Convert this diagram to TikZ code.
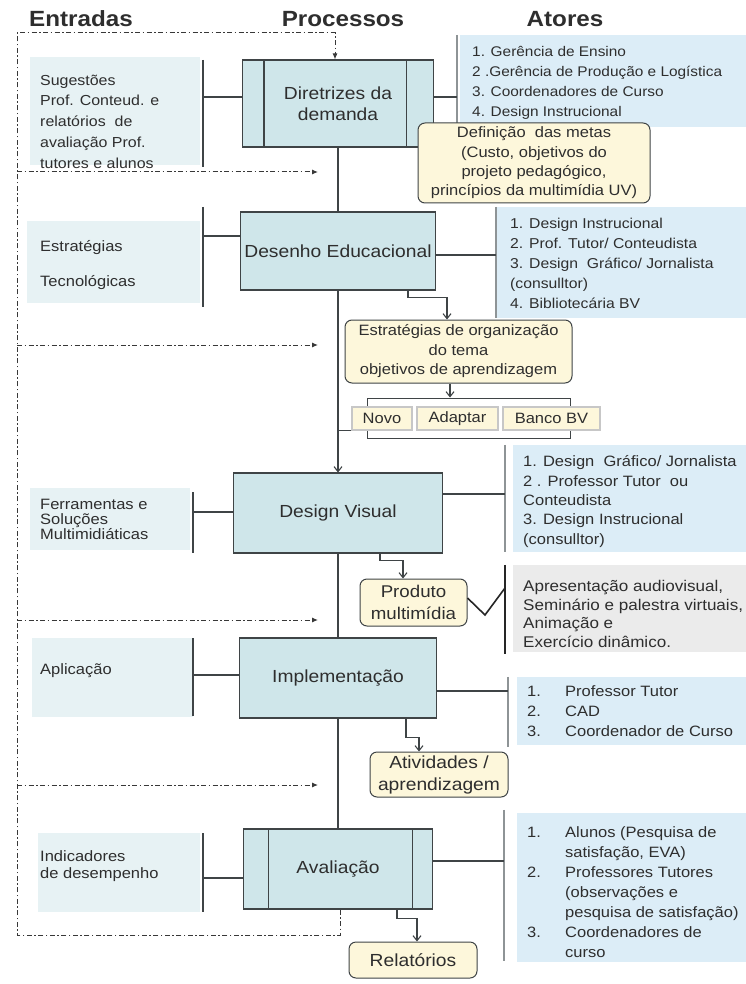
\documentclass[tikz,border=0pt]{standalone}
\usepackage{fontspec}
\setmainfont[FakeStretch=1.1]{Liberation Sans}
\usetikzlibrary{arrows.meta}

\definecolor{ink}{HTML}{2E2E2E}
\definecolor{linec}{HTML}{3F4446}
\definecolor{procfill}{HTML}{CFE6EA}
\definecolor{infill}{HTML}{E7F2F4}
\definecolor{actfill}{HTML}{DCEDF7}
\definecolor{notefill}{HTML}{FDF7DB}
\definecolor{greyfill}{HTML}{EBEBEB}
\definecolor{barc}{HTML}{8E9496}

\tikzset{
  head/.style={inner sep=0, text=ink, font=\fontsize{22}{26}\selectfont\bfseries},
  proc/.style={draw=linec, line width=1.1pt, fill=procfill, inner sep=0, align=center,
    text=ink, font=\fontsize{17.5}{21}\selectfont},
  note/.style={draw=linec, line width=1pt, fill=notefill, rounded corners=7pt, inner sep=0,
    align=center, text=ink},
  opt/.style={draw=black!22, line width=1.8pt, fill=notefill, inner sep=0, text=ink,
    font=\fontsize{15}{18}\selectfont},
  inpanel/.style={fill=infill, inner sep=0},
  actpanel/.style={fill=actfill, inner sep=0},
  txt/.style={inner sep=0, align=left, text=ink, anchor=west},
  link/.style={draw=linec, line width=1.1pt},
  flow/.style={link, -{Straight Barb[length=5pt,width=8pt]}},
  fb/.style={draw=black!78, line width=1pt, dash pattern=on 5pt off 2.5pt on 1.5pt off 2.5pt},
  fbtip/.style={-{Latex[length=6pt,width=5pt]}},
  inbar/.style={draw=linec, line width=1.6pt},
  actbar/.style={draw=barc, line width=1.4pt},
}

\begin{document}
\begin{tikzpicture}[x=1pt,y=-1pt]
\useasboundingbox[fill=white] (0,0) rectangle (746,984);

% column headings
\node[head] (hin) at (81,19) {Entradas};
\node[head] (hproc) at (343,19) {Processos};
\node[head] (hact) at (565,19) {Atores};

% ---------- input panels (left column)
\node[inpanel, minimum width=170, minimum height=108] (in1) at (115,111) {};
\node[inpanel, minimum width=173, minimum height=82] (in2) at (113.5,262) {};
\node[inpanel, minimum width=160, minimum height=62] (in3) at (110,519) {};
\node[inpanel, minimum width=161, minimum height=79] (in4) at (112.5,677.5) {};
\node[inpanel, minimum width=162, minimum height=79] (in5) at (119,872.5) {};

\node[txt, font=\fontsize{14.5}{20.7}\selectfont] (in1t) at (40,121.5)
  {Sugestões\\Prof. Conteud. e\\relatórios\ \ de\\avaliação Prof.\\tutores e alunos};
\node[txt, font=\fontsize{15}{35}\selectfont] (in2t) at (40,265.5) {Estratégias\\Tecnológicas};
\node[txt, font=\fontsize{15}{15}\selectfont] (in3t) at (40,519) {Ferramentas e\\Soluções\\Multimidiáticas};
\node[txt, font=\fontsize{15}{18}\selectfont] (in4t) at (40,671) {Aplicação};
\node[txt, font=\fontsize{15}{16.5}\selectfont] (in5t) at (40,866) {Indicadores\\de desempenho};

% separator bars of the input panels
\draw[inbar] (203,60) -- (203,167);
\draw[inbar] (203,207) -- (203,307);
\draw[inbar] (193,492) -- (193,553);
\draw[inbar] (193,638) -- (193,716);
\draw[inbar] (203,833) -- (203,912);

% ---------- actor panels (right column)
\node[actpanel, minimum width=286, minimum height=92] (act1) at (603,81) {};
\node[actpanel, minimum width=250, minimum height=111] (act2) at (621,262.5) {};
\node[actpanel, minimum width=233, minimum height=107] (act3) at (629.5,498.5) {};
\node[fill=greyfill, inner sep=0, minimum width=233, minimum height=87] (media) at (629.5,608.5) {};
\node[actpanel, minimum width=229, minimum height=68] (act4) at (631.5,711) {};
\node[actpanel, minimum width=229, minimum height=149] (act5) at (631.5,887.5) {};

\node[txt, font=\fontsize{14}{20}\selectfont] (act1t) at (472,83)
  {1. Gerência de Ensino\\2 .Gerência de Produção e Logística\\3. Coordenadores de Curso\\4. Design Instrucional};
\node[txt, font=\fontsize{14.3}{20}\selectfont] (act2t) at (510,263)
  {1. Design Instrucional\\2. Prof. Tutor/ Conteudista\\3. Design\ \ Gráfico/ Jornalista\\(consulltor)\\4. Bibliotecária BV};
\node[txt, font=\fontsize{15}{19.3}\selectfont] (act3t) at (523,501.5)
  {1. Design\ \ Gráfico/ Jornalista\\2 . Professor Tutor\ \ ou\\Conteudista\\3. Design Instrucional\\(consulltor)};
\node[txt, font=\fontsize{15.5}{18.8}\selectfont] (mediat) at (523,614)
  {Apresentação audiovisual,\\Seminário e palestra virtuais,\\Animação e\\Exercício dinâmico.};
\node[txt, font=\fontsize{15}{20}\selectfont] (act4t) at (527,711.5)
  {\makebox[38pt][l]{1.}Professor Tutor\\\makebox[38pt][l]{2.}CAD\\\makebox[38pt][l]{3.}Coordenador de Curso};
\node[txt, font=\fontsize{15}{20}\selectfont] (act5t) at (527,892)
  {\makebox[38pt][l]{1.}Alunos (Pesquisa de\\\hspace*{38pt}satisfação, EVA)\\
   \makebox[38pt][l]{2.}Professores Tutores\\\hspace*{38pt}(observações e\\
   \hspace*{38pt}pesquisa de satisfação)\\\makebox[38pt][l]{3.}Coordenadores de\\\hspace*{38pt}curso};

% separator bars of the actor panels
\draw[actbar] ([xshift=-3]act1.north west) -- ([xshift=-3]act1.south west);
\draw[actbar] (act2.north west) -- (act2.south west);
\draw[actbar] ([xshift=-8]act3.north west) -- ([xshift=-8]act3.south west);
\draw[draw=black!85, line width=2.2pt] ([xshift=-8]media.north west) -- ([xshift=-8,yshift=-2]media.south west);
\draw[actbar] ([xshift=-9]act4.north west) -- ([xshift=-9,yshift=-2]act4.south west);
\draw[actbar] ([xshift=-13,yshift=3]act5.north west) -- ([xshift=-13,yshift=1]act5.south west);

% ---------- process boxes
\node[proc, minimum width=191, minimum height=87] (dir) at (338,103.5) {Diretrizes da\\demanda};
\draw[link] ([xshift=22]dir.north west) -- ([xshift=22]dir.south west);
\draw[link] ([xshift=-28]dir.north east) -- ([xshift=-28]dir.south east);
\node[proc, minimum width=195, minimum height=78] (des) at (338,251) {Desenho Educacional};
\node[proc, minimum width=209, minimum height=80] (dv) at (338,513) {Design Visual};
\node[proc, minimum width=197, minimum height=80] (imp) at (338,678) {Implementação};
\node[proc, minimum width=189, minimum height=80] (ava) at (338,869) {Avaliação};
\draw[link] ([xshift=25.5]ava.north west) -- ([xshift=25.5]ava.south west);
\draw[link] ([xshift=-20.5]ava.north east) -- ([xshift=-20.5]ava.south east);

% inputs -> processes
\coordinate (i1) at (203,97);   \draw[link] (i1) -- (i1 -| dir.west);
\coordinate (i2) at (203,236);  \draw[link] (i2) -- (i2 -| des.west);
\coordinate (i3) at (193,512);  \draw[link] (i3) -- (i3 -| dv.west);
\coordinate (i4) at (193,675);  \draw[link] (i4) -- (i4 -| imp.west);
\coordinate (i5) at (203,878);  \draw[link] (i5) -- (i5 -| ava.west);

% processes -> actors
\coordinate (a1) at (457,97);   \draw[link] (a1 -| dir.east) -- (a1);
\coordinate (a2) at (496,255);  \draw[link] (a2 -| des.east) -- (a2);
\coordinate (a3) at (505,494);  \draw[link] (a3 -| dv.east) -- (a3);
\coordinate (a4) at (508,691);  \draw[link] (a4 -| imp.east) -- (a4);
\coordinate (a5) at (504,861);  \draw[link] (a5 -| ava.east) -- (a5);

% ---------- outputs of the processes
\node[note, minimum width=232, minimum height=80, font=\fontsize{15}{19.3}\selectfont] (meta) at (534,163)
  {Definição\ \ das metas\\(Custo, objetivos do\\projeto pedagógico,\\princípios da multimídia UV)};

\node[note, minimum width=227, minimum height=63, font=\fontsize{15}{19.5}\selectfont] (estr) at (458.5,351.5)
  {Estratégias de organização\\do tema\\objetivos de aprendizagem};

\node[draw=linec, line width=1pt, inner sep=0, minimum width=203, minimum height=40] (grp) at (468.5,418) {};
\node[opt, minimum width=60, minimum height=23] (novo) at (382,418.5) {Novo};
\node[opt, minimum width=81, minimum height=23] (adap) at (457.5,418.5) {Adaptar};
\node[opt, minimum width=97, minimum height=23] (banco) at (551.5,418.5) {Banco BV};

\node[note, minimum width=107, minimum height=47, font=\fontsize{17}{22}\selectfont] (prod) at (413.5,602.5)
  {Produto\\multimídia};
\node[note, minimum width=138, minimum height=45, font=\fontsize{17.5}{22}\selectfont] (ativ) at (439,774.5)
  {Atividades /\\aprendizagem};
\node[note, minimum width=128, minimum height=36, font=\fontsize{17.5}{22}\selectfont] (rel) at (413,960)
  {Relatórios};

% ---------- main flow
\draw[link] (dir.south) -- (des.north);
\draw[flow] (des.south) -- (dv.north);
\draw[link] (dv.south) -- (imp.north);
\draw[link] (imp.south) -- (ava.north);
\draw[link] (novo.south west) -- (novo.south west -| des.south);

\draw[flow] ([xshift=70]des.south) -- ++(0,7) -| ([xshift=-11.5]estr.north);
\draw[flow] ([xshift=-8.5]estr.south) -- ([xshift=-8.5]estr.south |- grp.north);
\draw[flow] ([xshift=42]dv.south) -- ++(0,7) -| ([xshift=-10.5]prod.north);
\draw[flow] ([xshift=68]imp.south) -- ++(0,19) -| ([xshift=-20]ativ.north);
\draw[flow] ([xshift=59]ava.south) -- ++(0,9) -| ([xshift=4]rel.north);

% product -> description of media
\coordinate (zig) at (485,615);
\coordinate (mbar) at (505,588);
\draw[draw=black!85, line width=1.6pt] ([yshift=4.5]prod.east) -- (zig) -- (mbar);

% ---------- feedback loop
\coordinate (fbTL) at (17,33);
\coordinate (fbBL) at (17,935);
\draw[fb, fbtip] ([xshift=2]ava.south) |- (fbBL) -- (fbTL) -| ([xshift=-3]dir.north);
\foreach \yy/\n in {172/1,345/2,620/3,785/4}{
  \coordinate (fb\n) at (318,\yy);
  \draw[fb, fbtip] (fb\n -| fbTL) -- (fb\n);
}
\end{tikzpicture}
\end{document}
